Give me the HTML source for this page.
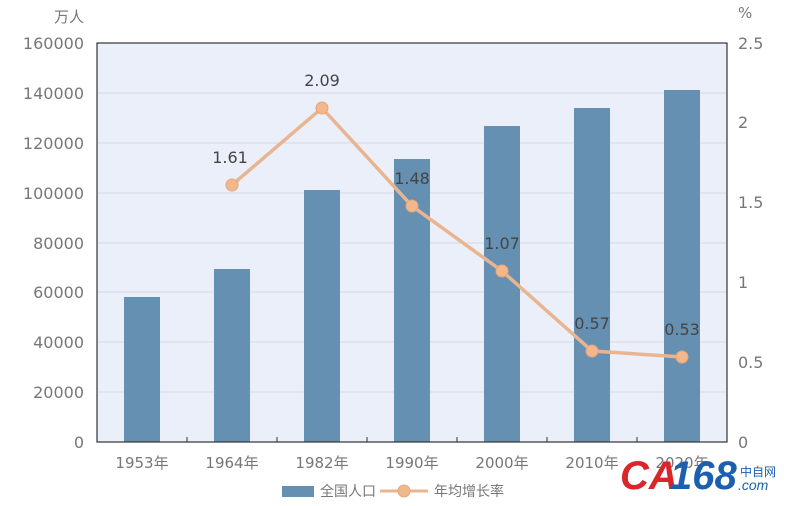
<!DOCTYPE html><html><head><meta charset="utf-8"><style>body{margin:0;background:#fff}svg{display:block}</style></head><body>
<svg width="800" height="506" xmlns="http://www.w3.org/2000/svg" font-family="DejaVu Sans, Noto Sans CJK SC, sans-serif">
<rect x="97" y="43" width="630" height="399" fill="#ebeffa"/>
<g stroke="#d6d9e4" stroke-width="1">
<line x1="97" x2="727" y1="93" y2="93"/><line x1="97" x2="727" y1="143" y2="143"/><line x1="97" x2="727" y1="193" y2="193"/><line x1="97" x2="727" y1="243" y2="243"/><line x1="97" x2="727" y1="292" y2="292"/><line x1="97" x2="727" y1="342" y2="342"/><line x1="97" x2="727" y1="392" y2="392"/>
</g>
<g fill="#6690b1">
<rect x="124" y="297" width="36" height="145"/>
<rect x="214" y="269" width="36" height="173"/>
<rect x="304" y="190" width="36" height="252"/>
<rect x="394" y="159" width="36" height="283"/>
<rect x="484" y="126" width="36" height="316"/>
<rect x="574" y="108" width="36" height="334"/>
<rect x="664" y="90" width="36" height="352"/>
</g>
<rect x="97" y="43" width="630" height="399" fill="none" stroke="#333" stroke-width="1.2"/>
<g stroke="#333"><line x1="187" x2="187" y1="437" y2="442"/><line x1="277" x2="277" y1="437" y2="442"/><line x1="367" x2="367" y1="437" y2="442"/><line x1="457" x2="457" y1="437" y2="442"/><line x1="547" x2="547" y1="437" y2="442"/><line x1="637" x2="637" y1="437" y2="442"/></g>
<polyline points="232,185 322,108 412,206 502,271 592,351 682,357" fill="none" stroke="#e9b591" stroke-width="3.5"/>
<g fill="#f3b78c" stroke="#e7a57d"><circle cx="232" cy="185" r="6"/><circle cx="322" cy="108" r="6"/><circle cx="412" cy="206" r="6"/><circle cx="502" cy="271" r="6"/><circle cx="592" cy="351" r="6"/><circle cx="682" cy="357" r="6"/></g>
<g fill="#444" font-size="16" text-anchor="middle"><text x="230" y="163">1.61</text><text x="322" y="86">2.09</text><text x="412" y="184">1.48</text><text x="502" y="249">1.07</text><text x="592" y="329">0.57</text><text x="682" y="335">0.53</text></g>
<g fill="#777" font-size="16" text-anchor="end"><text x="84" y="49">160000</text><text x="84" y="99">140000</text><text x="84" y="149">120000</text><text x="84" y="199">100000</text><text x="84" y="249">80000</text><text x="84" y="298">60000</text><text x="84" y="348">40000</text><text x="84" y="398">20000</text><text x="84" y="448">0</text><text x="84" y="22" font-size="15">万人</text></g>
<g fill="#777" font-size="16"><text x="738" y="49">2.5</text><text x="738" y="128">2</text><text x="738" y="208">1.5</text><text x="738" y="288">1</text><text x="738" y="368">0.5</text><text x="738" y="448">0</text><text x="738" y="18" font-size="15">%</text></g>
<g fill="#777" font-size="15" text-anchor="middle"><text x="142" y="468">1953年</text><text x="232" y="468">1964年</text><text x="322" y="468">1982年</text><text x="412" y="468">1990年</text><text x="502" y="468">2000年</text><text x="592" y="468">2010年</text><text x="682" y="468">2020年</text></g>
<rect x="282" y="486" width="32" height="11" fill="#6690b1"/>
<text x="320" y="496" font-size="14" fill="#777">全国人口</text>
<line x1="380" x2="428" y1="491" y2="491" stroke="#e9b591" stroke-width="3"/><circle cx="404" cy="491" r="6" fill="#f3b78c" stroke="#e7a57d"/>
<text x="434" y="496" font-size="14" fill="#777">年均增长率</text>
<text x="620" y="489" font-size="40" font-style="italic" font-weight="bold" fill="#d8262a" font-family="Liberation Sans, sans-serif">CA</text>
<text x="670" y="489" font-size="40" font-style="italic" font-weight="bold" fill="#1c5fb0" font-family="Liberation Sans, sans-serif">168</text>
<text x="740" y="476" font-size="12" fill="#1c5fb0">中自网</text>
<text x="738" y="490" font-size="14" font-style="italic" fill="#1c5fb0" font-family="Liberation Sans, sans-serif">.com</text>
</svg></body></html>
